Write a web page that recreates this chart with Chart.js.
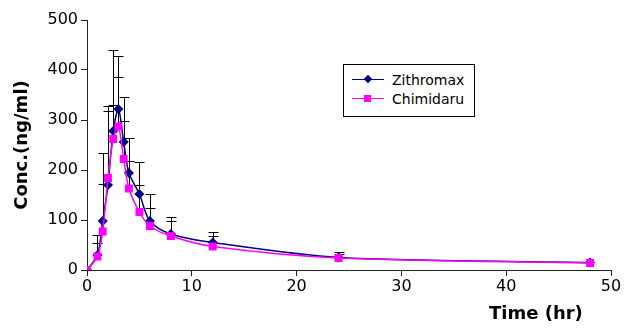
<!DOCTYPE html>
<html>
<head>
<meta charset="utf-8">
<script src="https://cdn.jsdelivr.net/npm/chart.js@4.4.1/dist/chart.umd.min.js"></script>
<style>
  html, body { margin: 0; padding: 0; background: #fff; }
  #wrap { position: relative; width: 626px; height: 331px; }
  canvas { display: block; }
  #legend { position: absolute; left: 343px; top: 64px; width: 132px; height: 53px;
    border: 1px solid #000; box-sizing: border-box; background: #fff;
    font-family: "DejaVu Sans", sans-serif; font-size: 14px; color: #000; }
  .row { position: absolute; left: 0; height: 18px; width: 100%; }
  .ln { position: absolute; left: 8px; top: 8px; width: 32px; height: 0; border-top: 1.5px solid; }
  .mk { position: absolute; }
  .tx { position: absolute; left: 48px; top: 0; line-height: 18px; }
  #xt { position: absolute; left: 489px; top: 302px; font-family: "DejaVu Sans", sans-serif;
    font-weight: bold; font-size: 18px; color: #000; white-space: pre; }
</style>
</head>
<body>
<div id="wrap">
  <canvas id="c" width="626" height="331"></canvas>
  <div id="legend">
    <div class="row" style="top:6px">
      <div class="ln" style="border-color:#000080"></div>
      <div class="mk" style="left:21px;top:5px;width:6px;height:6px;background:#000080;transform:rotate(45deg)"></div>
      <div class="tx">Zithromax</div>
    </div>
    <div class="row" style="top:25px">
      <div class="ln" style="border-color:#FF00FF"></div>
      <div class="mk" style="left:20px;top:5px;width:7px;height:7px;background:#FF00FF"></div>
      <div class="tx">Chimidaru</div>
    </div>
  </div>
  <div id="xt">Time (hr)</div>
</div>
<script>
// ---- data ----
const times = [0, 1, 1.5, 2, 2.5, 3, 3.5, 4, 5, 6, 8, 12, 24, 48];
const zithromax = [0, 30, 98, 170, 278, 322, 256, 194, 152, 98, 72, 55, 25, 15];
const chimidaru = [0, 27, 77, 184, 262, 287, 222, 163, 116, 88, 68, 47, 24, 14];
// upper error bar lengths (SD)
const zithromaxSD = [0, 40, 137, 158, 162, 106, 91, 71, 65, 55, 34, 21, 11, 0];
const chimidaruSD = [0, 28, 94, 134, 68, 99, 76, 56, 54, 37, 31, 21, 8, 0];
const xTicks = [0, 10, 20, 30, 40, 50];
const yTicks = [0, 100, 200, 300, 400, 500];

const seriesNames = ['Zithromax', 'Chimidaru'];

function pts(vals) { return times.map((t, i) => ({ x: t, y: vals[i] })); }

const errorBars = {
  id: 'errorBars',
  beforeDatasetsDraw(chart) {
    const ctx = chart.ctx, xs = chart.scales.x, ys = chart.scales.y;
    const sets = [[zithromax, zithromaxSD], [chimidaru, chimidaruSD]];
    ctx.save();
    ctx.strokeStyle = '#000';
    ctx.lineWidth = 1;
    sets.forEach(([vals, sd]) => {
      times.forEach((t, i) => {
        if (!sd[i]) return;
        const px = Math.round(xs.getPixelForValue(t)) + 0.5;
        const y0 = ys.getPixelForValue(vals[i]);
        const y1 = Math.round(ys.getPixelForValue(vals[i] + sd[i])) + 0.5;
        ctx.beginPath();
        ctx.moveTo(px, y0); ctx.lineTo(px, y1);
        ctx.moveTo(px - 5, y1); ctx.lineTo(px + 5, y1);
        ctx.stroke();
      });
    });
    ctx.restore();
  }
};

new Chart(document.getElementById('c'), {
  type: 'line',
  data: {
    datasets: [
      { label: seriesNames[0], data: pts(zithromax), borderColor: '#000080', backgroundColor: '#000080',
        borderWidth: 1.5, pointStyle: 'rectRot', pointRadius: 4, tension: 0.3, order: 1 },
      { label: seriesNames[1], data: pts(chimidaru), borderColor: '#FF00FF', backgroundColor: '#FF00FF',
        borderWidth: 1.5, pointStyle: 'rect', pointRadius: 4.5, tension: 0.3, order: 0 }
    ]
  },
  options: {
    responsive: false,
    animation: false,
    layout: { padding: { top: 20, right: 15, left: 0, bottom: 0 } },
    plugins: { legend: { display: false }, tooltip: { enabled: false } },
    scales: {
      x: {
        type: 'linear', min: 0, max: 50,
        afterBuildTicks(s) { s.ticks = xTicks.map(v => ({ value: v })); },
        afterFit(s) { s.height = 61; },
        grid: { display: true, drawOnChartArea: false, drawTicks: true, tickLength: 6, color: '#222', tickColor: '#222' },
        border: { color: '#222', width: 1 },
        ticks: { color: '#000', padding: 1, maxRotation: 0, font: { family: 'DejaVu Sans', size: 16 } }
      },
      y: {
        min: 0, max: 500,
        afterBuildTicks(s) { s.ticks = yTicks.map(v => ({ value: v })); },
        afterFit(s) { s.width = 87; },
        grid: { display: true, drawOnChartArea: false, drawTicks: true, tickLength: 6, color: '#222', tickColor: '#222' },
        border: { color: '#222', width: 1 },
        ticks: { color: '#000', padding: 3, font: { family: 'DejaVu Sans', size: 16 } },
        title: { display: true, text: 'Conc.(ng/ml)', color: '#000', padding: { top: 12, bottom: 0 },
          font: { family: 'DejaVu Sans', size: 18, weight: 'bold' } }
      }
    }
  },
  plugins: [errorBars]
});
</script>
</body>
</html>
